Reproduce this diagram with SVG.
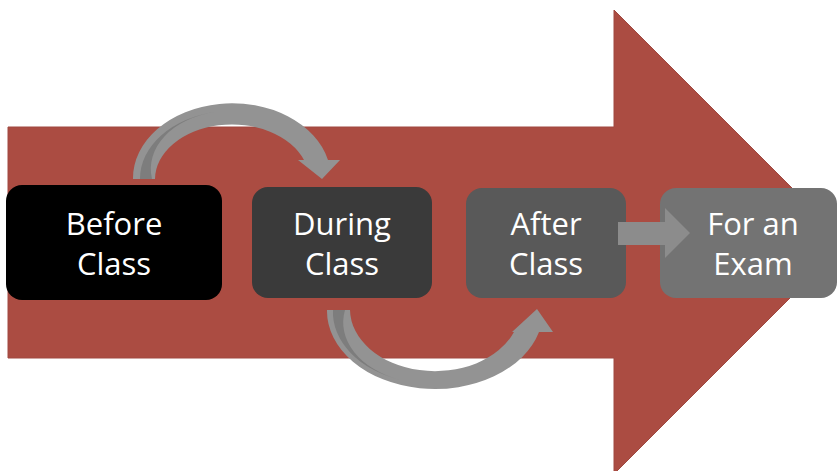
<svg xmlns="http://www.w3.org/2000/svg" width="837" height="471" viewBox="0 0 837 471">
<style>
.lbl{font-family:"Open Sans","Liberation Sans",sans-serif;font-size:31px;fill:#ffffff;text-anchor:middle}
.band{fill:#939393}
.shade{fill:#7d7d7d}
</style>
<rect width="837" height="471" fill="#ffffff"/>
<g id="big-arrow">
<polygon points="8,127 614,127 614,10 846,242 614,474 614,358 8,358" fill="#ab4c42" stroke="#a04840" stroke-width="1"/>
</g>
<g id="before">
<rect x="6" y="185" width="216" height="115" rx="16" fill="#000000"/>
<text class="lbl" x="114" y="235">Before</text>
<text class="lbl" x="114" y="275">Class</text>
</g>
<g id="during">
<rect x="252" y="187" width="180" height="111" rx="16" fill="#3a3a3a"/>
<text class="lbl" x="342" y="235">During</text>
<text class="lbl" x="342" y="275">Class</text>
</g>
<g id="after">
<rect x="466" y="188" width="160" height="110" rx="16" fill="#595959"/>
<text class="lbl" x="546" y="235">After</text>
<text class="lbl" x="546" y="275">Class</text>
</g>
<g id="exam">
<rect x="660" y="188" width="177" height="110" rx="16" fill="#737373"/>
<text class="lbl" x="753" y="235">For an</text>
<text class="lbl" x="753" y="275">Exam</text>
</g>
<g id="connectors">
<path class="band" d="M 133 179 A 99 75 0 0 1 328 160 L 340 160 L 322 179 L 298 160 L 304 160 A 77 55 0 0 0 155 179 Z"/>
<path class="shade" d="M 140 179 A 92 68 0 0 1 215 112 A 80 58 0 0 0 152 179 Z"/>
<path class="band" d="M 327 310 A 108 78 0 0 0 539 332 L 553 332 L 537 309 L 512 332 L 514 332 A 85 62 0 0 1 350 310 Z"/>
<path class="shade" d="M 333 310 A 102 72 0 0 0 400 380 A 90 62 0 0 1 345 310 Z"/>
<polygon points="618,222 665,222 665,208 690,233 665,258 665,245 618,245" fill="#8c8c8c"/>
</g>
</svg>
